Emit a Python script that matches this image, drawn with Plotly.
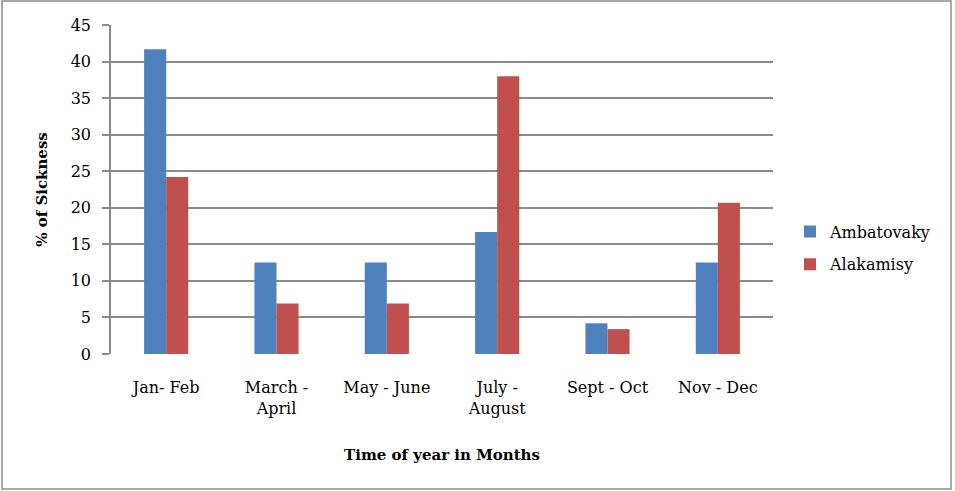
import plotly.graph_objects as go

categories = ["Jan- Feb", "March -<br>April", "May - June", "July -<br>August", "Sept - Oct", "Nov - Dec"]
ambatovaky = [41.7, 12.5, 12.5, 16.7, 4.2, 12.5]
alakamisy = [24.2, 6.9, 6.9, 38.0, 3.4, 20.7]
y_ticks = [0, 5, 10, 15, 20, 25, 30, 35, 40, 45]

FONT = "DejaVu Serif"
W, H = 955, 491
L, R, T, B = 111, 182, 25, 137
PW, PH = W - L - R, H - T - B

fig = go.Figure()
fig.add_trace(go.Bar(x=categories, y=ambatovaky, name="Ambatovaky",
                     marker=dict(color="#4F81BD", line=dict(width=0)), legendgroup="a"))
fig.add_trace(go.Bar(x=categories, y=alakamisy, name="Alakamisy",
                     marker=dict(color="#C0504D", line=dict(width=0)), legendgroup="b"))

def px_x(p):
    return (p - L) / PW

def px_y(p):
    return (H - B - p) / PH

fig.update_layout(
    width=W, height=H,
    margin=dict(l=L, r=R, t=T, b=B),
    paper_bgcolor="white", plot_bgcolor="white",
    barmode="group", bargap=0.6, bargroupgap=0,
    font=dict(family=FONT, size=16, color="black"),
    showlegend=True,
    legend=dict(x=px_x(790), y=px_y(248), xanchor="left", yanchor="middle",
                traceorder="grouped", tracegroupgap=9,
                font=dict(family=FONT, size=16), itemwidth=30),
    xaxis=dict(showgrid=False, showline=False, ticks="", zeroline=False,
               tickfont=dict(family=FONT, size=16), ticklabelstandoff=22,
               title=dict(text="<b>Time of year in Months</b>", font=dict(family=FONT, size=15), standoff=32)),
    yaxis=dict(range=[0, 45], tickvals=y_ticks, ticktext=[str(v) for v in y_ticks],
               showgrid=True, gridcolor="#8a8a8a", gridwidth=1.5,
               showline=True, linecolor="#8a8a8a", linewidth=1.5,
               ticks="outside", ticklen=7, tickcolor="#8a8a8a", tickwidth=1.5,
               zeroline=False, tickfont=dict(family=FONT, size=16),
               ticklabelstandoff=8,
               title=dict(text="<b>% of Sickness</b>", font=dict(family=FONT, size=15), standoff=19)),
    shapes=[dict(type="rect", xref="paper", yref="paper",
                 x0=px_x(2), x1=px_x(951), y0=px_y(489), y1=px_y(1),
                 line=dict(color="#8c8c8c", width=1.5), fillcolor="rgba(0,0,0,0)", layer="below")],
)

fig.write_html("out.html", config={"displayModeBar": False},
               post_script="document.body.style.margin='0';document.body.style.overflow='hidden';")
